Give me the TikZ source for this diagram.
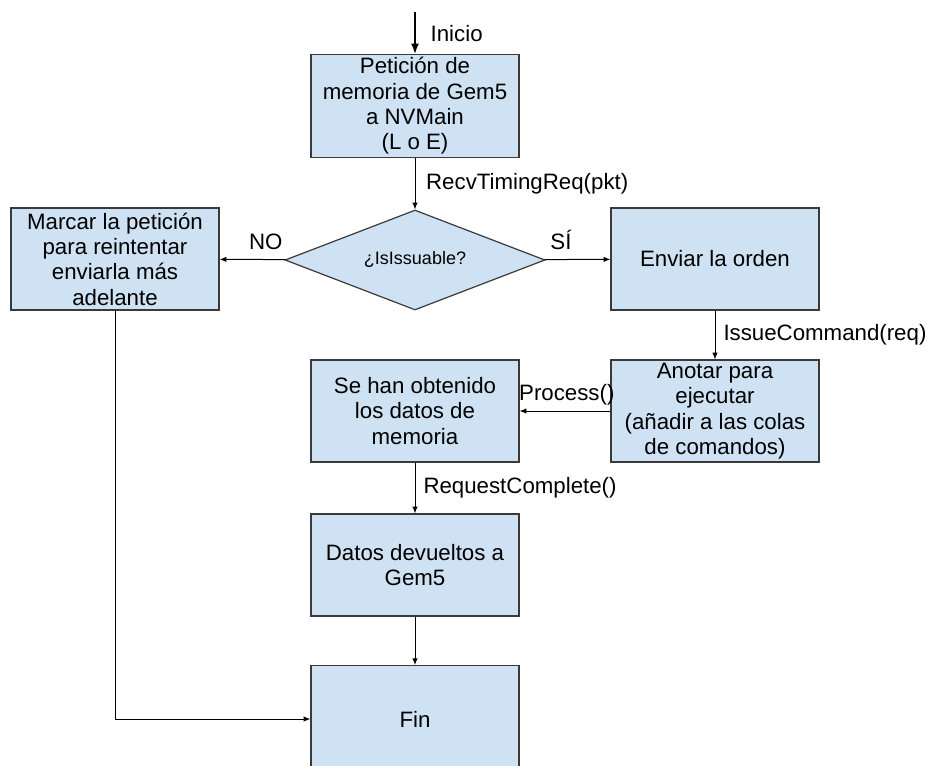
\documentclass[tikz,border=0pt]{standalone}
\usepackage{fontspec}
\setmainfont{Liberation Sans}
\usetikzlibrary{shapes.geometric}
\usetikzlibrary{positioning}
\usetikzlibrary{arrows.meta}
\definecolor{boxblue}{HTML}{CFE2F3}
\definecolor{boxline}{HTML}{3A3A3A}

\begin{document}
\begin{tikzpicture}[x=0.75pt, y=-0.75pt,
    paso/.style={draw=boxline, line width=0.9pt, rectangle, fill=boxblue, align=center,
        minimum width=156pt, minimum height=76.5pt, inner sep=2pt,
        font=\fontsize{16.7pt}{19pt}\selectfont},
    conn/.style={-{Latex[length=5pt,width=4pt]}, line width=0.75pt},
    lbl/.style={font=\fontsize{16.7pt}{19pt}\selectfont, inner sep=1pt}]
            \useasboundingbox (0,0) rectangle (929,765);
            % flujo de una peticion de memoria
            \coordinate (inicio) at (415,12);
            \node[paso] (peticion) at (415,106) {Petición de\\memoria de Gem5\\a NVMain\\(L o E)};
            \node[draw=boxline, line width=0.9pt, diamond, fill=boxblue, aspect=2.6, inner sep=0pt,
                minimum width=195pt, minimum height=75pt, font=\fontsize{13.5pt}{16pt}\selectfont] (decision) at (415,260) {¿IsIssuable?};
            \node[paso] (marcar) at (115,259) {Marcar la petición\\para reintentar\\enviarla más\\adelante};
            \node[paso] (enviar) at (715,259) {Enviar la orden};
            \node[paso] (anotar) at (715,411) {Anotar para\\ejecutar\\(añadir a las colas\\de comandos)};
            \node[paso] (obtenido) at (415,411) {Se han obtenido\\los datos de\\memoria};
            \node[paso] (devueltos) at (415,565) {Datos devueltos a\\Gem5};
            \node[paso, minimum height=80pt] (fin) at (415,719) {Fin};

            \draw[-{Latex[length=8pt,width=6pt]}, line width=1.5pt] (inicio) -- node[lbl, right=10pt] {Inicio} (peticion);
            \draw[conn] (peticion) -- node[lbl, right=7pt] {RecvTimingReq(pkt)} (decision);
            \draw[conn] (decision) -- node[lbl, above=6pt, pos=0.3] {NO} (marcar);
            \draw[conn] (decision) -- node[lbl, above=6pt, pos=0.25] {SÍ} (enviar);
            \draw[conn] (enviar) -- node[lbl, right=5pt] {IssueCommand(req)} (anotar);
            \draw[conn] (anotar) -- node[lbl, above=3pt, pos=0.48] {Process()} (obtenido);
            \draw[conn] (obtenido) -- node[lbl, right=5pt] {RequestComplete()} (devueltos);
            \draw[conn] (devueltos) -- (fin);
            \draw[conn] (marcar) |- (fin);
        \end{tikzpicture}
\end{document}
